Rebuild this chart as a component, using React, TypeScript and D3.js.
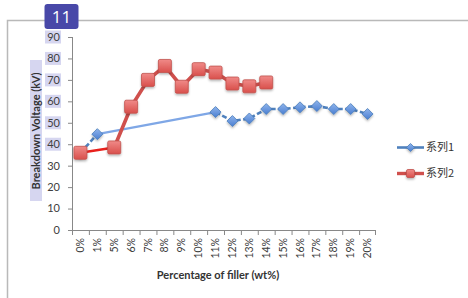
import React from 'react';
import * as d3 from 'd3';

// category labels along the x axis
const categories = ['0%', '1%', '5%', '6%', '7%', '8%', '9%', '10%', '11%', '12%', '13%', '14%', '15%', '16%', '17%', '18%', '19%', '20%'];

// 系列1 (blue) - gaps at 5%..10%
const series1: (number | null)[] = [36, 44.7, null, null, null, null, null, null, 55, 50.8, 52, 56.4, 56.4, 57.2, 57.8, 56.4, 56.4, 54.1];
// 系列2 (red) - gap at 1%, ends at 14%
const series2: (number | null)[] = [36, null, 38.5, 57.5, 70, 76.5, 66.8, 75, 73.4, 68.3, 67, 68.8, null, null, null, null, null, null];

const yTicks = [0, 10, 20, 30, 40, 50, 60, 70, 80, 90];
const highlightedTicks = [40, 50, 60, 70, 80, 90];

const W = 468;
const H = 298;
const font = 'Lato, "Open Sans", sans-serif';

const x = d3.scaleBand<string>().domain(categories).range([72, 376]);
const y = d3.scaleLinear().domain([0, 90]).range([230, 37]);
const cx = (i: number) => (x(categories[i]) as number) + x.bandwidth() / 2;

type Pt = [number, number];

// split a series into runs of consecutive points and the bridges over the gaps
function splitSeries(vals: (number | null)[]) {
  const runs: Pt[][] = [];
  const bridges: [Pt, Pt][] = [];
  let cur: Pt[] = [];
  let last: Pt | null = null;
  let gap = false;
  vals.forEach((v, i) => {
    if (v == null) {
      if (cur.length) runs.push(cur);
      cur = [];
      gap = true;
      return;
    }
    const p: Pt = [cx(i), y(v)];
    if (gap && last) bridges.push([last, p]);
    gap = false;
    cur.push(p);
    last = p;
  });
  if (cur.length) runs.push(cur);
  return { runs, bridges };
}

const line = d3.line<Pt>();

const Diamond = ({ px, py, s = 5.5 }: { px: number; py: number; s?: number }) => (
  <path
    d={`M${px},${py - s}L${px + s},${py}L${px},${py + s}L${px - s},${py}Z`}
    fill="url(#blueFill)"
    stroke="#4a7ebb"
    strokeWidth={0.8}
    filter="url(#shadow)"
  />
);

const Square = ({ px, py, s = 6.5 }: { px: number; py: number; s?: number }) => (
  <rect
    x={px - s}
    y={py - s}
    width={s * 2}
    height={s * 2}
    rx={1.5}
    fill="url(#redFill)"
    stroke="#c0504d"
    strokeWidth={0.8}
    filter="url(#shadow)"
  />
);

export default function App() {
  const s1 = splitSeries(series1);
  const s2 = splitSeries(series2);

  return (
    <div style={{ position: 'absolute', left: 0, top: 0, width: W, height: H, background: '#fff' }}>
      <svg width={W} height={H} style={{ display: 'block' }}>
        <defs>
          <linearGradient id="blueFill" x1="0" y1="0" x2="0" y2="1">
            <stop offset="0" stopColor="#8fb4ec" />
            <stop offset="1" stopColor="#4a7ed0" />
          </linearGradient>
          <linearGradient id="redFill" x1="0" y1="0" x2="0" y2="1">
            <stop offset="0" stopColor="#f08a88" />
            <stop offset="1" stopColor="#d9504c" />
          </linearGradient>
          <filter id="shadow" x="-50%" y="-50%" width="200%" height="200%">
            <feDropShadow dx="0" dy="1.5" stdDeviation="1" floodColor="#000" floodOpacity="0.3" />
          </filter>
        </defs>

        {/* cropped outer frame */}
        <path d={`M7.5,${H}V20.5H${W}`} fill="none" stroke="#b9b9b9" strokeWidth={1.5} />

        {/* text-selection highlights */}
        <rect x={30} y={60} width={12} height={141} fill="#d6d6f0" />
        {highlightedTicks.map(t => (
          <rect key={t} x={45} y={y(t) - 6.5} width={16} height={13} fill="#d6d6f0" />
        ))}

        {/* y axis */}
        <line x1={72.5} x2={72.5} y1={y(90)} y2={y(0)} stroke="#888" />
        {yTicks.map(t => (
          <g key={t}>
            <line x1={68} x2={72.5} y1={y(t) + 0.5} y2={y(t) + 0.5} stroke="#888" />
            <text x={60} y={y(t)} dy="0.35em" textAnchor="end" fontSize={11} fill="#404040" fontFamily={font}>
              {t}
            </text>
          </g>
        ))}

        {/* x axis */}
        <line x1={72} x2={376} y1={230.5} y2={230.5} stroke="#888" />
        {categories.map((c, i) => (
          <g key={c}>
            <line x1={(x(c) as number) + 0.5} x2={(x(c) as number) + 0.5} y1={230.5} y2={235} stroke="#888" />
            <text
              transform={`translate(${cx(i) + 3.5},238) rotate(-90)`}
              textAnchor="end"
              fontSize={10.5}
              fill="#404040"
              fontFamily={font}
            >
              {c}
            </text>
          </g>
        ))}
        <line x1={375.5} x2={375.5} y1={230.5} y2={235} stroke="#888" />

        {/* axis titles */}
        <text x={218} y={279} textAnchor="middle" fontSize={11} fontWeight="bold" fill="#333" fontFamily={font}>
          Percentage of filler (wt%)
        </text>
        <text
          transform="translate(40,131) rotate(-90)"
          textAnchor="middle"
          fontSize={11}
          fontWeight="bold"
          fill="#333"
          fontFamily={font}
        >
          Breakdown Voltage (kV)
        </text>

        {/* series 1 */}
        {s1.bridges.map((b, i) => (
          <path key={'b1' + i} d={line(b) as string} fill="none" stroke="#7fa7e6" strokeWidth={2.2} />
        ))}
        {s1.runs.map((r, i) => (
          <path
            key={'r1' + i}
            d={line(r) as string}
            fill="none"
            stroke="#4f81bd"
            strokeWidth={2.6}
            strokeDasharray="5 2.5"
          />
        ))}
        {series1.map((v, i) => (v == null ? null : <Diamond key={'d' + i} px={cx(i)} py={y(v)} />))}

        {/* series 2 */}
        {s2.bridges.map((b, i) => (
          <path key={'b2' + i} d={line(b) as string} fill="none" stroke="#e8201c" strokeWidth={2.6} />
        ))}
        {s2.runs.map((r, i) => (
          <path key={'r2' + i} d={line(r) as string} fill="none" stroke="#d0504d" strokeWidth={3.6} strokeLinejoin="round" />
        ))}
        {series2.map((v, i) => (v == null ? null : <Square key={'s' + i} px={cx(i)} py={y(v)} />))}

        {/* legend */}
        <line x1={397} x2={424} y1={147.5} y2={147.5} stroke="#4f81bd" strokeWidth={2.6} />
        <Diamond px={410.5} py={147.5} s={4} />
        <text x={426} y={147.5} dy="0.35em" fontSize={11} fill="#333" fontFamily={'"Noto Sans CJK SC", ' + font}>
          系列1
        </text>
        <line x1={397} x2={424} y1={173.5} y2={173.5} stroke="#d0504d" strokeWidth={3.4} />
        <Square px={410.5} py={173.5} s={4} />
        <text x={426} y={173.5} dy="0.35em" fontSize={11} fill="#333" fontFamily={'"Noto Sans CJK SC", ' + font}>
          系列2
        </text>

        {/* slide number badge */}
        <rect x={44.5} y={4} width={34} height={25} rx={3} fill="#4848a8" />
        <text x={61.5} y={16.5} dy="0.36em" textAnchor="middle" fontSize={17} fill="#fff" fontFamily={'"Open Sans", sans-serif'}>
          11
        </text>
      </svg>
    </div>
  );
}
